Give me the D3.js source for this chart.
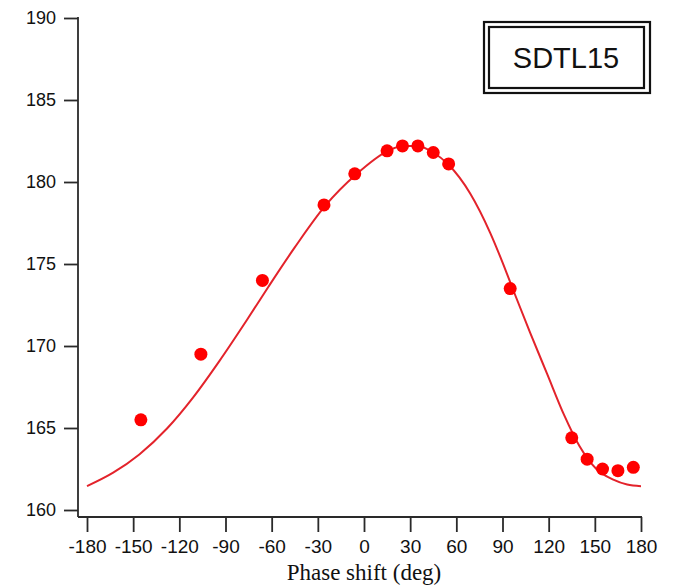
<!DOCTYPE html>
<html>
<head>
<meta charset="utf-8">
<script src="https://cdn.jsdelivr.net/npm/d3@7"></script>
<style>
  html, body { margin: 0; padding: 0; background: #fff; }
  svg { display: block; }
</style>
</head>
<body>
<svg id="chart" width="673" height="587"></svg>
<script>
// Measured data points
const phaseDeg = [-145, -106, -66, -26, -6, 15, 25, 35, 45, 55, 95, 135, 145, 155, 165, 175];
const values   = [165.5, 169.5, 174.0, 178.6, 180.5, 181.9, 182.2, 182.2, 181.8, 181.1, 173.5, 164.4, 163.1, 162.5, 162.4, 162.6];

// Fitted curve
const fitDeg = [-180, -163, -146, -128, -111, -94, -76, -62, -45, -25, -5, 15, 25, 35, 45, 55, 69, 82, 90, 97, 108, 119, 130, 140, 151, 162, 171, 180];
const fitVal = [161.46, 162.28, 163.39, 164.97, 166.87, 169.08, 171.6, 173.63, 176.01, 178.57, 180.47, 181.87, 182.2, 182.2, 181.8, 181.05, 179.3, 176.9, 175.1, 173.4, 170.8, 168.3, 165.8, 163.9, 162.5, 161.85, 161.55, 161.45];

const xTicks = [-180, -150, -120, -90, -60, -30, 0, 30, 60, 90, 120, 150, 180];
const yTicks = [160, 165, 170, 175, 180, 185, 190];
const legendLabel = "SDTL15";
const xTitle = "Phase shift (deg)";

const svg = d3.select("#chart");
const x = d3.scaleLinear().domain([-180, 180]).range([87, 641]);
const y = d3.scaleLinear().domain([160, 190]).range([510, 18]);

const axisColor = "#2a2a2a";
const axisY0 = 517, axisX0 = 78;
const fmt = d => String(d);

// Y axis
const yAxis = svg.append("g").attr("transform", `translate(${axisX0},0)`)
  .call(d3.axisLeft(y).tickValues(yTicks).tickSize(14).tickPadding(8).tickFormat(fmt));
yAxis.select(".domain").remove();
yAxis.selectAll(".tick line").attr("stroke", axisColor).attr("stroke-width", 1.8);
yAxis.selectAll(".tick text").attr("fill", "#111")
  .style("font-family", "'Liberation Sans', Arial, sans-serif").style("font-size", "18px");
svg.append("line").attr("x1", axisX0).attr("x2", axisX0).attr("y1", y(190) - 1).attr("y2", axisY0)
  .attr("stroke", axisColor).attr("stroke-width", 1.8);

// X axis
const xAxis = svg.append("g").attr("transform", `translate(0,${axisY0})`)
  .call(d3.axisBottom(x).tickValues(xTicks).tickSize(15).tickPadding(8).tickFormat(fmt));
xAxis.select(".domain").remove();
xAxis.selectAll(".tick line").attr("stroke", axisColor).attr("stroke-width", 1.8);
xAxis.selectAll(".tick text").attr("fill", "#111")
  .style("font-family", "'Liberation Sans', Arial, sans-serif").style("font-size", "19px");
svg.append("line").attr("x1", axisX0).attr("x2", x(180) + 1).attr("y1", axisY0).attr("y2", axisY0)
  .attr("stroke", axisColor).attr("stroke-width", 1.8);

svg.append("text").attr("x", x(0)).attr("y", 580).attr("text-anchor", "middle")
  .style("font-family", "'Liberation Serif', 'Times New Roman', serif").style("font-size", "23px")
  .attr("fill", "#111").text(xTitle);

// Fit curve
const fitData = fitDeg.map((d, i) => [d, fitVal[i]]);
svg.append("path").datum(fitData)
  .attr("fill", "none").attr("stroke", "#e3232b").attr("stroke-width", 2)
  .attr("d", d3.line().x(d => x(d[0])).y(d => y(d[1])).curve(d3.curveMonotoneX));

// Points
svg.append("g").selectAll("circle").data(phaseDeg.map((d, i) => [d, values[i]])).join("circle")
  .attr("cx", d => x(d[0])).attr("cy", d => y(d[1])).attr("r", 6.5).attr("fill", "#ff0000");

// Legend box (double border)
const lg = svg.append("g");
lg.append("rect").attr("x", 484).attr("y", 22).attr("width", 166).attr("height", 71)
  .attr("fill", "#fff").attr("stroke", "#111").attr("stroke-width", 2.2);
lg.append("rect").attr("x", 489).attr("y", 27).attr("width", 155).attr("height", 61)
  .attr("fill", "none").attr("stroke", "#111").attr("stroke-width", 2.2);
lg.append("text").attr("x", 566).attr("y", 68).attr("text-anchor", "middle")
  .style("font-family", "'Liberation Sans', Arial, sans-serif").style("font-size", "29px")
  .attr("fill", "#111").text(legendLabel);
</script>
</body>
</html>
